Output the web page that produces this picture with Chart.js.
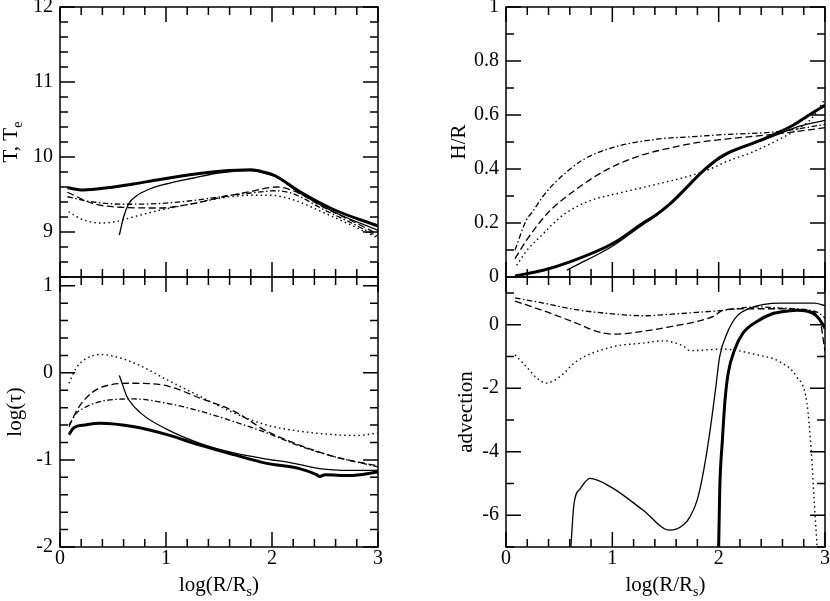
<!DOCTYPE html>
<html>
<head>
<meta charset="utf-8">
<script src="https://cdn.jsdelivr.net/npm/chart.js@4.4.1/dist/chart.umd.min.js"></script>
<style>
  html, body { margin: 0; padding: 0; background: #fff; }
  #wrap { position: relative; width: 830px; height: 601px; }
  #wrap canvas { position: absolute; left: 0; top: 0; }
</style>
</head>
<body>
<div id="wrap">
  <canvas id="cTemp" width="830" height="601"></canvas>
  <canvas id="cTau" width="830" height="601"></canvas>
  <canvas id="cHR" width="830" height="601"></canvas>
  <canvas id="cAdv" width="830" height="601"></canvas>
</div>
<script>
//-----------------------------------------------------------------
// DATA, x = log(R/Rs)

// T, Te
var tempThickX = [0.07, 0.22, 0.45, 0.69, 0.94, 1.26, 1.51, 1.8, 1.92, 2.03, 2.26, 2.58, 3.0];
var tempThickY = [9.59, 9.56, 9.59, 9.64, 9.70, 9.77, 9.81, 9.83, 9.80, 9.75, 9.54, 9.30, 9.08];
var tempThinX = [0.56, 0.60, 0.65, 0.72, 0.84, 1.0, 1.26, 1.51, 1.8, 1.92, 2.03, 2.26, 2.58, 3.0];
var tempThinY = [8.96, 9.20, 9.38, 9.48, 9.57, 9.64, 9.72, 9.79, 9.82, 9.79, 9.74, 9.52, 9.27, 9.02];
var tempDashX = [0.07, 0.31, 0.57, 0.94, 1.26, 1.51, 1.8, 2.04, 2.2, 2.5, 2.75, 3.0];
var tempDashY = [9.53, 9.38, 9.33, 9.32, 9.38, 9.46, 9.54, 9.60, 9.55, 9.32, 9.15, 8.97];
var tempDashDotX = [0.07, 0.31, 0.63, 0.94, 1.26, 1.51, 1.8, 2.04, 2.2, 2.5, 2.75, 3.0];
var tempDashDotY = [9.47, 9.40, 9.37, 9.38, 9.42, 9.47, 9.52, 9.55, 9.51, 9.29, 9.12, 8.94];
var tempDotX = [0.08, 0.19, 0.38, 0.53, 0.69, 0.94, 1.26, 1.51, 1.8, 1.98, 2.2, 2.5, 2.75, 3.0];
var tempDotY = [9.27, 9.18, 9.12, 9.14, 9.20, 9.29, 9.38, 9.45, 9.49, 9.49, 9.43, 9.25, 9.09, 8.92];

// log(tau)
var tauThickX = [0.085, 0.13, 0.23, 0.38, 0.7, 1.01, 1.32, 1.64, 1.95, 2.26, 2.42, 2.45, 2.5, 2.73, 3.0];
var tauThickY = [-0.71, -0.63, -0.60, -0.58, -0.62, -0.71, -0.83, -0.94, -1.04, -1.10, -1.17, -1.19, -1.17, -1.18, -1.14];
var tauThinX = [0.56, 0.60, 0.63, 0.76, 1.01, 1.32, 1.64, 1.95, 2.17, 2.45, 2.73, 3.0];
var tauThinY = [-0.03, -0.17, -0.27, -0.46, -0.65, -0.81, -0.92, -0.99, -1.03, -1.10, -1.12, -1.12];
var tauDotX = [0.085, 0.15, 0.23, 0.38, 0.54, 0.76, 1.01, 1.32, 1.64, 1.95, 2.26, 2.58, 2.8, 3.0];
var tauDotY = [-0.12, 0.05, 0.15, 0.21, 0.18, 0.08, -0.08, -0.27, -0.46, -0.60, -0.67, -0.71, -0.72, -0.69];
var tauDashX = [0.085, 0.15, 0.23, 0.38, 0.7, 1.01, 1.32, 1.64, 1.95, 2.26, 2.58, 3.0];
var tauDashY = [-0.62, -0.45, -0.31, -0.17, -0.12, -0.15, -0.29, -0.44, -0.67, -0.83, -0.96, -1.07];
var tauDashDotX = [0.085, 0.15, 0.23, 0.38, 0.7, 1.01, 1.32, 1.64, 1.95, 2.26, 2.58, 3.0];
var tauDashDotY = [-0.60, -0.47, -0.40, -0.33, -0.30, -0.35, -0.44, -0.56, -0.69, -0.84, -0.96, -1.08];

// H/R
var hrThickX = [0.085, 0.35, 0.6, 1.0, 1.29, 1.41, 1.54, 1.66, 1.78, 1.88, 2.0, 2.08, 2.39, 2.7, 2.85, 3.0];
var hrThickY = [0.004, 0.025, 0.056, 0.123, 0.2, 0.23, 0.27, 0.316, 0.365, 0.402, 0.44, 0.458, 0.506, 0.562, 0.6, 0.636];
var hrThinX = [0.57, 0.66, 1.0, 1.29, 1.41, 1.66, 1.88, 2.08, 2.39, 2.6, 2.77, 3.0];
var hrThinY = [0.025, 0.043, 0.114, 0.195, 0.226, 0.313, 0.40, 0.455, 0.503, 0.535, 0.56, 0.58];
var hrDashX = [0.085, 0.2, 0.39, 0.63, 0.94, 1.25, 1.57, 1.83, 2.07, 2.55, 3.0];
var hrDashY = [0.068, 0.14, 0.236, 0.316, 0.396, 0.448, 0.48, 0.50, 0.511, 0.53, 0.553];
var hrDashDotX = [0.085, 0.19, 0.25, 0.35, 0.47, 0.72, 1.0, 1.41, 1.76, 2.07, 2.55, 3.0];
var hrDashDotY = [0.10, 0.21, 0.242, 0.30, 0.353, 0.433, 0.479, 0.51, 0.52, 0.528, 0.538, 0.565];
var hrDotX = [0.1, 0.2, 0.35, 0.45, 0.56, 0.78, 1.1, 1.41, 1.76, 1.95, 2.07, 2.3, 2.55, 2.75, 2.88, 3.0];
var hrDotY = [0.043, 0.10, 0.16, 0.20, 0.236, 0.281, 0.314, 0.343, 0.378, 0.405, 0.427, 0.46, 0.506, 0.55, 0.59, 0.66];

// advection
var advThickX = [1.995, 2.0, 2.01, 2.035, 2.06, 2.09, 2.15, 2.23, 2.36, 2.51, 2.57, 2.74, 2.89, 2.95, 3.0];
var advThickY = [-7.5, -7.0, -5.2, -3.63, -2.37, -1.52, -0.79, -0.26, 0.10, 0.35, 0.39, 0.45, 0.35, 0.16, -0.12];
var advThinX = [0.6, 0.61, 0.64, 0.70, 0.79, 0.98, 1.29, 1.54, 1.67, 1.73, 1.8, 1.86, 1.92, 1.97, 2.01, 2.08, 2.17, 2.3, 2.58, 2.9, 3.0];
var advThinY = [-7.5, -7.0, -5.63, -5.16, -4.84, -5.1, -5.84, -6.47, -6.3, -6.05, -5.5, -4.57, -3.31, -2.05, -1.0, -0.26, 0.26, 0.53, 0.68, 0.68, 0.6];
var advDashX = [0.085, 0.41, 0.66, 0.85, 1.0, 1.29, 1.6, 1.73, 1.86, 1.95, 2.04, 2.23, 2.55, 2.86, 2.95, 3.0];
var advDashY = [0.74, 0.37, 0.05, -0.21, -0.30, -0.21, -0.03, 0.05, 0.16, 0.26, 0.45, 0.50, 0.50, 0.42, 0.16, -0.84];
var advDashDotX = [0.085, 0.35, 0.66, 1.0, 1.29, 1.6, 1.73, 2.04, 2.36, 2.55, 2.86, 2.95, 3.0];
var advDashDotY = [0.84, 0.68, 0.47, 0.34, 0.28, 0.34, 0.37, 0.45, 0.56, 0.53, 0.45, 0.35, 0.2];
var advDotX = [0.085, 0.19, 0.29, 0.38, 0.51, 0.66, 1.0, 1.29, 1.48, 1.67, 1.73, 2.04, 2.36, 2.57, 2.73, 2.83, 2.87, 2.9, 2.93];
var advDotY = [-0.95, -1.32, -1.68, -1.84, -1.63, -1.16, -0.70, -0.58, -0.51, -0.68, -0.82, -0.77, -0.95, -1.16, -1.63, -2.47, -3.95, -5.63, -7.2];

// axis ticks
var xTicks = [0, 1, 2, 3];
var tempTicks = [9, 10, 11, 12];
var tauTicks = [-2, -1, 0, 1];
var hrTicks = [0, 0.2, 0.4, 0.6, 0.8, 1];
var advTicks = [-6, -4, -2, 0];

//-----------------------------------------------------------------
// STYLES

Chart.defaults.font.family = "'Liberation Serif', 'DejaVu Serif', serif";
Chart.defaults.font.size = 20;
Chart.defaults.color = '#000000';

const THICK = { borderWidth: 3, borderDash: [] };
const THIN = { borderWidth: 1.3, borderDash: [] };
const DASH = { borderWidth: 1.3, borderDash: [7, 3.5] };
const DASHDOT = { borderWidth: 1.3, borderDash: [5.5, 2.5, 1.5, 2.5] };
const DOT = { borderWidth: 1.4, borderDash: [1.5, 3.2] };

function series(xs, ys, style) {
    return Object.assign({
        data: xs.map((x, i) => ({ x: x, y: ys[i] })),
        borderColor: '#000',
        pointRadius: 0,
        fill: false,
        cubicInterpolationMode: 'monotone',
        borderCapStyle: 'butt',
        borderJoinStyle: 'round',
    }, style);
}

//-----------------------------------------------------------------
// frame + inward ticks on all four sides, axis titles with subscripts

function minorList(min, max, step, major) {
    var out = [];
    for (var i = 0; ; i++) {
        var v = +(min + i * step).toFixed(6);
        if (v > max + 1e-6) break;
        if (!major.some(m => Math.abs(m - v) < 1e-6)) out.push(v);
    }
    return out;
}

const framePlugin = {
    id: 'frame',
    afterDatasetsDraw(chart, args, o) {
        const ctx = chart.ctx, a = chart.chartArea;
        const xs = chart.scales.x, ys = chart.scales.y;
        ctx.save();
        ctx.strokeStyle = '#000';
        ctx.lineWidth = 1.5;
        ctx.strokeRect(a.left, a.top, a.right - a.left, a.bottom - a.top);
        ctx.beginPath();
        const xMinor = minorList(0, 3, 0.2, xTicks);
        function xTick(v, len) {
            const p = xs.getPixelForValue(v);
            ctx.moveTo(p, a.bottom); ctx.lineTo(p, a.bottom - len);
            ctx.moveTo(p, a.top); ctx.lineTo(p, a.top + len);
        }
        function yTick(v, len) {
            const p = ys.getPixelForValue(v);
            ctx.moveTo(a.left, p); ctx.lineTo(a.left + len, p);
            ctx.moveTo(a.right, p); ctx.lineTo(a.right - len, p);
        }
        xTicks.forEach(v => xTick(v, 15));
        xMinor.forEach(v => xTick(v, 8));
        o.yMajor.forEach(v => yTick(v, 15));
        minorList(o.yMin, o.yMax, o.yStep, o.yMajor).forEach(v => yTick(v, 8));
        ctx.stroke();

        // titles
        ctx.fillStyle = '#000';
        drawRich(ctx, o.yTitle, o.yTitleX, (a.top + a.bottom) / 2, true);
        if (o.xTitle) drawRich(ctx, o.xTitle, (a.left + a.right) / 2, 591, false);
        ctx.restore();
    }
};

function drawRich(ctx, parts, x, y, rotate) {
    const big = "21px 'Liberation Serif', serif";
    const small = "14px 'Liberation Serif', serif";
    var w = 0;
    parts.forEach(p => { ctx.font = p.sub ? small : big; w += ctx.measureText(p.t).width; });
    ctx.save();
    ctx.translate(x, y);
    if (rotate) ctx.rotate(-Math.PI / 2);
    ctx.textBaseline = 'alphabetic';
    ctx.textAlign = 'left';
    var cx = -w / 2;
    parts.forEach(p => {
        ctx.font = p.sub ? small : big;
        ctx.fillText(p.t, cx, p.sub ? 5 : 0);
        cx += ctx.measureText(p.t).width;
    });
    ctx.restore();
}

function makeChart(id, datasets, opt) {
    return new Chart(document.getElementById(id).getContext('2d'), {
        type: 'line',
        data: { datasets: datasets },
        options: {
            responsive: false,
            animation: false,
            events: [],
            layout: { padding: opt.padding },
            plugins: {
                legend: { display: false },
                tooltip: { enabled: false },
                frame: opt.frame,
            },
            scales: {
                x: {
                    type: 'linear',
                    min: 0,
                    max: 3,
                    display: opt.showX,
                    grid: { display: false, drawTicks: false },
                    border: { display: false },
                    ticks: { padding: 0, autoSkip: false, maxRotation: 0 },
                    afterBuildTicks: s => { s.ticks = xTicks.map(v => ({ value: v })); },
                    afterFit: s => { s.height = opt.showX ? 30 : 0; s.paddingLeft = 0; s.paddingRight = 0; },
                },
                y: {
                    type: 'linear',
                    min: opt.frame.yMin,
                    max: opt.frame.yMax,
                    grid: { display: false, drawTicks: false },
                    border: { display: false },
                    ticks: {
                        padding: 7,
                        autoSkip: false,
                        callback: v => String(v),
                    },
                    afterBuildTicks: s => { s.ticks = opt.frame.yMajor.map(v => ({ value: v })); },
                    afterFit: s => { s.width = 45; s.paddingTop = 0; s.paddingBottom = 0; },
                },
            },
        },
        plugins: [framePlugin],
    });
}

const xTitle = [{ t: 'log(R/R' }, { t: 's', sub: true }, { t: ')' }];

makeChart('cTemp', [
    series(tempThickX, tempThickY, THICK),
    series(tempThinX, tempThinY, THIN),
    series(tempDashX, tempDashY, DASH),
    series(tempDashDotX, tempDashDotY, DASHDOT),
    series(tempDotX, tempDotY, DOT),
], {
    padding: { left: 15, right: 452, top: 7, bottom: 324 },
    showX: false,
    frame: { yMin: 8.4, yMax: 12, yStep: 0.2, yMajor: tempTicks,
             yTitle: [{ t: 'T, T' }, { t: 'e', sub: true }], yTitleX: 17 },
});

makeChart('cTau', [
    series(tauThickX, tauThickY, THICK),
    series(tauThinX, tauThinY, THIN),
    series(tauDashX, tauDashY, DASH),
    series(tauDashDotX, tauDashDotY, DASHDOT),
    series(tauDotX, tauDotY, DOT),
], {
    padding: { left: 15, right: 452, top: 277, bottom: 24 },
    showX: true,
    frame: { yMin: -2, yMax: 1.1, yStep: 0.2, yMajor: tauTicks,
             yTitle: [{ t: 'log(\u03c4)' }], yTitleX: 21, xTitle: xTitle },
});

makeChart('cHR', [
    series(hrThickX, hrThickY, THICK),
    series(hrThinX, hrThinY, THIN),
    series(hrDashX, hrDashY, DASH),
    series(hrDashDotX, hrDashDotY, DASHDOT),
    series(hrDotX, hrDotY, DOT),
], {
    padding: { left: 461, right: 5, top: 7, bottom: 324 },
    showX: false,
    frame: { yMin: 0, yMax: 1, yStep: 0.1, yMajor: hrTicks,
             yTitle: [{ t: 'H/R' }], yTitleX: 465 },
});

makeChart('cAdv', [
    series(advThickX, advThickY, THICK),
    series(advThinX, advThinY, THIN),
    series(advDashX, advDashY, DASH),
    series(advDashDotX, advDashDotY, DASHDOT),
    series(advDotX, advDotY, DOT),
], {
    padding: { left: 461, right: 5, top: 277, bottom: 24 },
    showX: true,
    frame: { yMin: -7, yMax: 1.5, yStep: 1, yMajor: advTicks,
             yTitle: [{ t: 'advection' }], yTitleX: 472, xTitle: xTitle },
});
</script>
</body>
</html>
